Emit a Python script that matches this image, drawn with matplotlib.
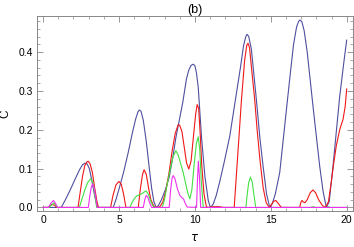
import matplotlib
matplotlib.use("Agg")
import matplotlib.pyplot as plt
from matplotlib.ticker import MultipleLocator

# values (tau, C)
blue_tau = [0, 1.2, 1.5, 1.8, 2.1, 2.4, 2.6, 2.76, 2.9, 3.05, 3.2, 3.35, 3.5, 3.6,
            4.62, 4.8, 5.0, 5.3, 5.6, 5.9, 6.1, 6.25, 6.34, 6.45, 6.6, 6.8, 7.0, 7.15, 7.3, 7.45,
            7.6, 7.8, 8.05, 8.31, 8.55, 8.75, 9.0, 9.2, 9.44, 9.6, 9.75, 9.89, 10.0, 10.1, 10.22, 10.44, 10.66, 10.88, 11.02,
            11.2, 11.4, 11.63, 11.95, 12.3, 12.74, 13.0, 13.2, 13.35, 13.44, 13.55, 13.72, 14.05, 14.28, 14.49, 14.72, 14.93,
            15.1, 15.3, 15.59, 16.03, 16.3, 16.5, 16.7, 16.83, 16.93, 17.05, 17.2, 17.4, 17.78, 18.22, 18.45, 18.66,
            18.85, 19.1, 19.54, 19.8, 20.0]
blue_c = [0, 0, 0.022, 0.046, 0.072, 0.097, 0.110, 0.114, 0.112, 0.100, 0.072, 0.040, 0.012, 0.0,
          0.0, 0.02, 0.047, 0.09, 0.14, 0.195, 0.228, 0.246, 0.251, 0.248, 0.225, 0.17, 0.10, 0.05, 0.015, 0.0,
          0.005, 0.02, 0.045, 0.078, 0.13, 0.18, 0.23, 0.27, 0.33, 0.354, 0.366, 0.369, 0.365, 0.348, 0.31, 0.18, 0.08, 0.018, 0.0,
          0.008, 0.03, 0.065, 0.12, 0.184, 0.295, 0.36, 0.415, 0.44, 0.446, 0.44, 0.408, 0.278, 0.18, 0.107, 0.035, 0.0,
          0.01, 0.035, 0.09, 0.252, 0.35, 0.42, 0.465, 0.479, 0.483, 0.478, 0.455, 0.4, 0.261, 0.107, 0.04, 0.0,
          0.015, 0.107, 0.286, 0.37, 0.431]

red_tau = [0, 0.35, 0.55, 0.75, 0.9, 2.3, 2.45, 2.6, 2.75, 2.9, 2.98, 3.1, 3.25, 3.4, 3.55, 3.65,
           4.45, 4.6, 4.8, 5.0, 5.15, 5.3, 5.46,
           6.27, 6.4, 6.55, 6.66, 6.8, 6.95, 7.1, 7.3, 7.5, 7.7, 7.9, 8.1, 8.3, 8.5, 8.7, 8.9, 9.0,
           9.15, 9.3, 9.45, 9.6, 9.75, 9.9, 10.05, 10.15, 10.25, 10.35, 10.45, 10.6, 10.75, 10.85,
           11.2, 11.6, 11.9, 12.59, 12.85, 13.07, 13.28, 13.42, 13.5, 13.6, 13.72, 13.94, 14.1, 14.28, 14.5, 14.7, 14.9,
           15.05, 15.2, 15.33, 15.5, 15.7, 16.9, 17.0, 17.06, 17.15, 17.25, 17.4, 17.6, 17.78, 17.95,
           18.15, 18.4, 18.6, 18.8, 19.0, 19.15, 19.32, 19.54, 19.76, 19.9, 20.0]
red_c = [0, 0, 0.008, 0.006, 0, 0, 0.04, 0.08, 0.108, 0.118, 0.119, 0.112, 0.09, 0.05, 0.015, 0,
         0, 0.03, 0.058, 0.067, 0.06, 0.035, 0,
         0, 0.045, 0.085, 0.097, 0.085, 0.05, 0.02, 0.003, 0, 0.002, 0.015, 0.045, 0.09, 0.145, 0.19, 0.213, 0.212,
         0.195, 0.155, 0.115, 0.099, 0.12, 0.18, 0.24, 0.265, 0.255, 0.19, 0.11, 0.035, 0.003, 0,
         0.002, 0.002, 0, 0, 0.15, 0.278, 0.38, 0.418, 0.423, 0.412, 0.363, 0.278, 0.2, 0.125, 0.05, 0.012, 0,
         0.008, 0.016, 0.018, 0.01, 0, 0, 0.015, 0.018, 0.014, 0.012, 0.02, 0.038, 0.045, 0.038,
         0.02, 0.005, 0, 0.015, 0.07, 0.115, 0.16, 0.2, 0.227, 0.26, 0.305]

green_tau = [0, 0.4, 0.55, 0.72, 0.85, 0.95, 2.39, 2.55, 2.75, 2.95, 3.14, 3.3, 3.42, 3.53,
             5.72, 5.85, 6.0, 6.15, 6.3, 6.5, 6.7, 6.8, 6.95, 7.1, 7.25, 7.4,
             7.85, 8.0, 8.15, 8.36, 8.55, 8.75, 8.9, 9.05, 9.23, 9.4, 9.55, 9.67, 9.8, 9.95, 10.1, 10.22,
             10.32, 10.42, 10.55, 13.36, 13.45, 13.55, 13.66, 13.78, 13.9, 14.01,
             17.6, 17.8, 17.95, 18.7, 18.8, 18.9, 20.0]
green_c = [0, 0, 0.006, 0.012, 0.005, 0, 0, 0.02, 0.045, 0.065, 0.074, 0.062, 0.03, 0,
           0, 0.012, 0.022, 0.029, 0.032, 0.035, 0.041, 0.042, 0.033, 0.015, 0.003, 0,
           0, 0.02, 0.055, 0.095, 0.13, 0.146, 0.135, 0.115, 0.09, 0.06, 0.035, 0.022, 0.045, 0.11, 0.165, 0.182,
           0.15, 0.07, 0, 0, 0.035, 0.065, 0.078, 0.065, 0.03, 0,
           0, 0.002, 0, 0, 0.002, 0, 0]

magenta_tau = [0, 0.35, 0.5, 0.68, 0.8, 0.95, 2.98, 3.08, 3.18, 3.27, 3.37, 3.47, 3.57,
               6.6, 6.7, 6.8, 6.9, 7.0, 7.15, 8.31, 8.4, 8.5, 8.57, 8.68, 8.85, 9.01, 9.15, 9.25, 9.35, 9.49,
               10.11, 10.17, 10.23, 10.3, 10.38, 20.0]
magenta_c = [0, 0, 0.01, 0.018, 0.012, 0, 0, 0.03, 0.053, 0.061, 0.05, 0.025, 0,
             0, 0.02, 0.031, 0.027, 0.014, 0, 0, 0.045, 0.075, 0.082, 0.075, 0.048, 0.031, 0.025, 0.022, 0.012, 0.001,
             0, 0.07, 0.119, 0.08, 0, 0]

x_ticks = [0, 5, 10, 15, 20]
y_ticks = [0.0, 0.1, 0.2, 0.3, 0.4]

plt.rcParams['font.family'] = ['Liberation Sans', 'DejaVu Sans']

fig = plt.figure(figsize=(3.54, 2.47), dpi=100)
ax = fig.add_axes([0.1045, 0.146, 0.892, 0.789])

lw = 0.8
ax.plot(blue_tau, blue_c, color='#4f4f9f', lw=lw)
ax.plot(red_tau, red_c, color='#f01818', lw=lw)
ax.plot(green_tau, green_c, color='#44e044', lw=lw)
ax.plot(magenta_tau, magenta_c, color='#ee30ee', lw=lw)

ax.set_xlim(-0.4, 20.4)
ax.set_ylim(-0.009, 0.493)
ax.set_xticks(x_ticks)
ax.set_yticks(y_ticks)
ax.set_yticklabels([f'{v:.1f}' for v in y_ticks])
ax.xaxis.set_minor_locator(MultipleLocator(1))
ax.yaxis.set_minor_locator(MultipleLocator(0.02))
ax.tick_params(which='both', direction='in', top=True, right=True,
               color='#888888', labelsize=7.5, pad=3)
ax.tick_params(which='major', length=4, width=0.6)
ax.tick_params(which='minor', length=2, width=0.5)
for s in ax.spines.values():
    s.set_color('#888888')
    s.set_linewidth(0.7)

ax.set_title('(b)', fontsize=9, pad=1)
ax.set_xlabel(r'$\tau$', fontsize=8.5, labelpad=5)
ax.set_ylabel('C', fontsize=8.5, labelpad=5)

fig.savefig('out.png', dpi=100)
